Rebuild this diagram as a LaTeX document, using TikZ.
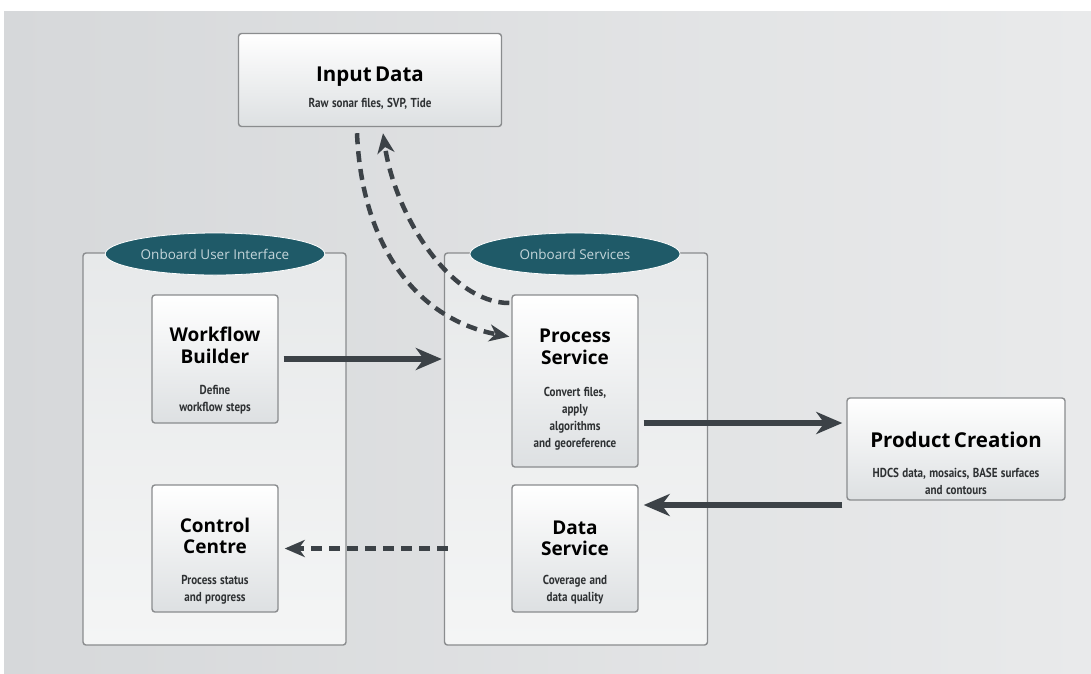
\documentclass[tikz,border=0pt]{standalone}
\usepackage{fontspec}
\setmainfont{Open Sans}
\newfontfamily\condfont[FakeStretch=0.85]{PT Sans Bold}
\usetikzlibrary{arrows.meta}
\usetikzlibrary{shapes.geometric}
\definecolor{bglow}{HTML}{D6D8DA}
\definecolor{bghigh}{HTML}{E9EAEB}
\definecolor{boxgrey}{HTML}{8A8C8E}
\definecolor{boxlow}{HTML}{DDE0E2}
\definecolor{contop}{HTML}{E7E9EA}
\definecolor{conlow}{HTML}{F4F5F5}
\definecolor{tagfill}{HTML}{1F5A68}
\definecolor{tagtext}{HTML}{C4D5DA}
\definecolor{arrowgrey}{HTML}{3C4247}
\definecolor{subgrey}{HTML}{2E3133}
\newcommand{\titlef}{\bfseries\fontsize{19}{21.5}\selectfont}
\newcommand{\bigtitlef}{\bfseries\fontsize{20.5}{23}\selectfont}
\newcommand{\subf}{\color{subgrey}\condfont\fontsize{13}{17}\selectfont}
\tikzset{
  container/.style={draw=boxgrey,line width=1.4pt,rounded corners=3pt,top color=contop,bottom color=conlow,minimum width=263pt,minimum height=392pt},
  tag/.style={ellipse,fill=tagfill,draw=white,line width=0.8pt,minimum width=210pt,minimum height=42pt,text=tagtext,font=\fontsize{13.5}{16}\selectfont},
  panel/.style={draw=boxgrey,line width=1.4pt,rounded corners=3pt,top color=white,bottom color=boxlow,inner sep=5pt,align=center},
  flow/.style={line width=6pt,color=arrowgrey,line cap=butt,-{Stealth[length=26pt,width=22pt,inset=8pt]}},
  dflow/.style={line width=4.5pt,color=arrowgrey,line cap=butt,dash pattern=on 11pt off 7pt,-{Stealth[length=20pt,width=17pt,inset=6pt]}}
}
\begin{document}
\begin{tikzpicture}[x=1pt,y=-1pt,line cap=round,line join=round]
  \useasboundingbox (0,0) rectangle (1091,673);
  \fill[white] (0,0) rectangle (1091,673);
  \shade[left color=bglow,right color=bghigh] (4,11) rectangle (1091,673);
  % containers
  \node[container] (ui) at (214.5,449) {};
  \node[container] (svc) at (576,449) {};
  \node[tag] (uitag) at (215,254) {Onboard User Interface};
  \node[tag] (svctag) at (575,254) {Onboard Services};
  % boxes
  \node[panel,text width=253pt,minimum height=93pt] (input) at (370,80)
    {\vskip8pt{\bigtitlef Input Data\par}\vskip9pt{\subf Raw sonar files, SVP, Tide\par}};
  \node[panel,text width=116pt,minimum height=128pt] (wb) at (215,359)
    {\vskip16pt{\titlef Workflow\\Builder\par}\vskip14pt{\subf Define\\workflow steps\par}};
  \node[panel,text width=116pt,minimum height=127pt] (cc) at (215,548.5)
    {\vskip18pt{\titlef Control\\Centre\par}\vskip14pt{\subf Process status\\and progress\par}};
  \node[panel,text width=116pt,minimum height=172pt] (ps) at (575,381)
    {\vskip9pt{\titlef Process\\Service\par}\vskip15pt{\subf Convert files,\\apply\\algorithms\\and georeference\par}};
  \node[panel,text width=116pt,minimum height=127pt] (ds) at (575,548.5)
    {\vskip20pt{\titlef Data\\Service\par}\vskip12pt{\subf Coverage and\\data quality\par}};
  \node[panel,text width=208pt,minimum height=102pt] (pc) at (956,449)
    {\vskip21pt{\bigtitlef Product Creation\par}\vskip13pt{\subf HDCS data, mosaics, BASE surfaces\\and contours\par}};
  % connectors
  \coordinate (psout) at ([yshift=-42pt]ps.east);
  \coordinate (dsin) at ([yshift=43.5pt]ds.east);
  \coordinate (insrc) at ([shift={(-13pt,-6pt)}]input.south);
  \coordinate (indst) at ([shift={(13pt,-6pt)}]input.south);
  \coordinate (psin) at ([yshift=44pt]ps.west);
  \coordinate (psup) at ([yshift=78pt]ps.west);
  \draw[flow,shorten <=5pt,shorten >=2pt] (wb.east) -- (wb.east -| svc.west);
  \draw[flow,shorten <=5pt,shorten >=4pt] (psout) -- (psout -| pc.west);
  \draw[flow,shorten <=4pt,shorten >=5pt] (dsin -| pc.west) -- (dsin);
  \draw[dflow,shorten <=-4pt,shorten >=6pt] (ds.west -| svc.west) -- (cc.east);
  \draw[dflow,shorten >=2pt] (insrc) .. controls (362,250) and (420,320) .. (psin);
  \draw[dflow,shorten <=2pt] (psup) .. controls (450,303) and (395,215) .. (indst);
\end{tikzpicture}
\end{document}
